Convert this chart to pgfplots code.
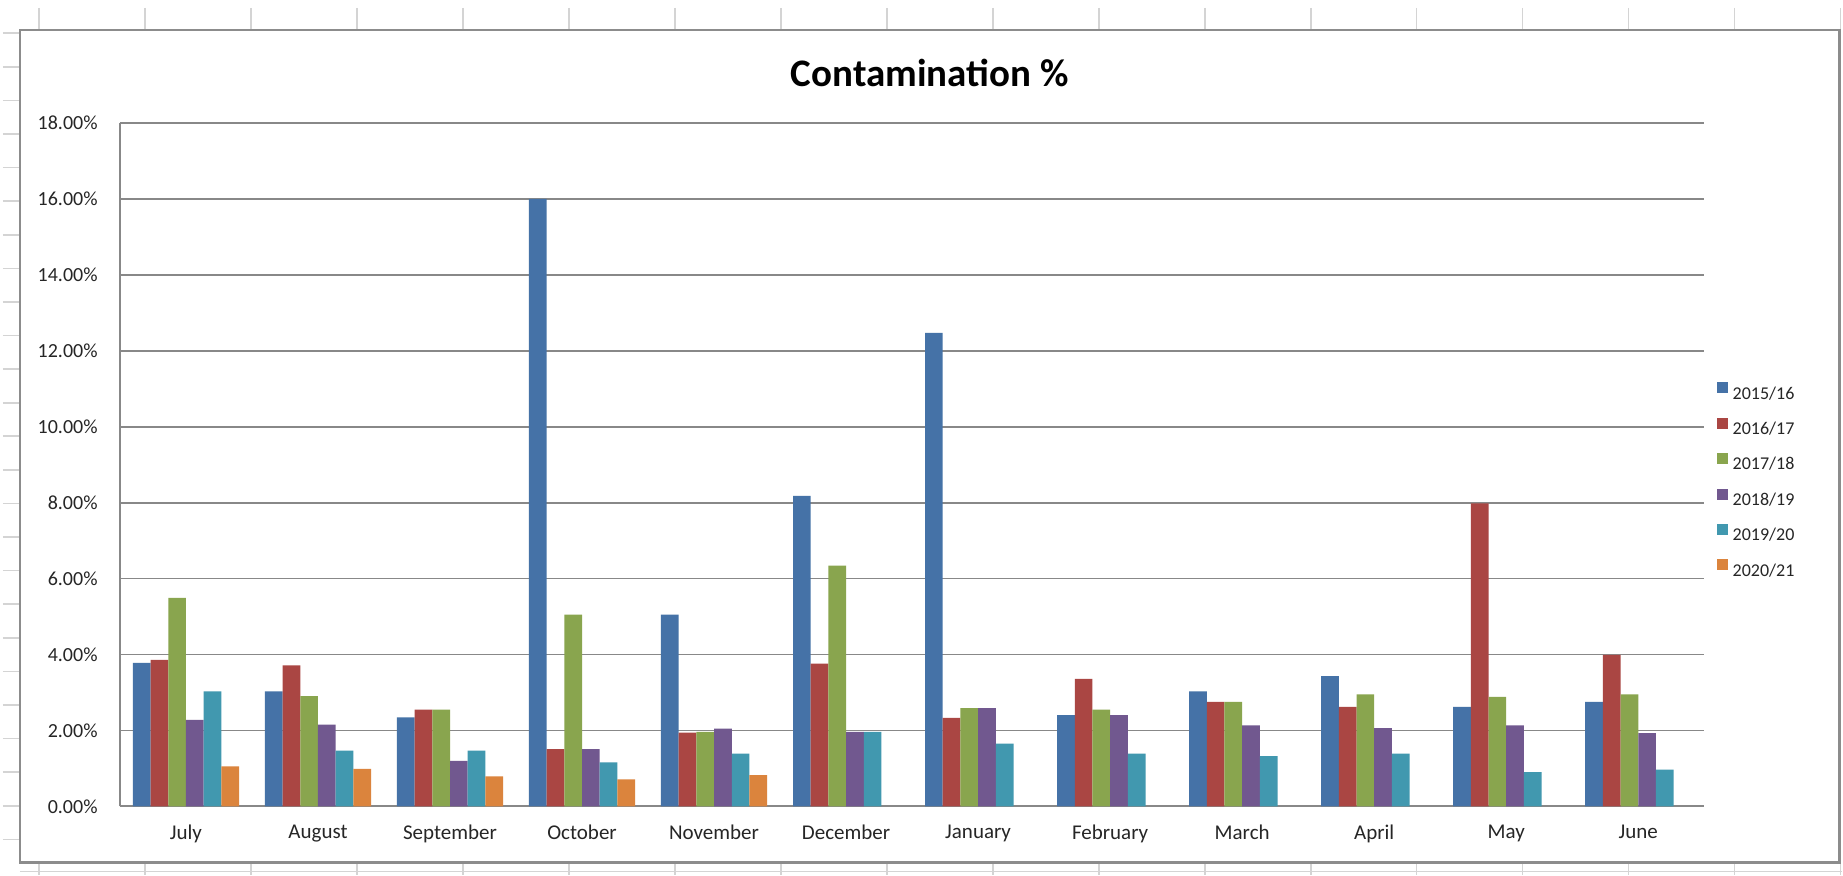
\documentclass[border=0pt]{standalone}
\usepackage{pgfplots}
\usepackage{pgfplotstable}
\pgfplotsset{compat=1.18}
\usepackage{fontspec}
\setmainfont{Carlito}
\definecolor{s1}{HTML}{4572A7}
\definecolor{s2}{HTML}{AA4643}
\definecolor{s3}{HTML}{89A54E}
\definecolor{s4}{HTML}{71588F}
\definecolor{s5}{HTML}{4198AF}
\definecolor{s6}{HTML}{DB843D}
\definecolor{gridc}{RGB}{136,136,136}
\definecolor{cellc}{RGB}{212,212,212}
\definecolor{framec}{RGB}{140,140,140}
\pgfplotstableread{
x a b c d e f
0 3.78 3.86 5.49 2.28 3.03 1.05
1 3.03 3.71 2.90 2.15 1.47 0.99
2 2.34 2.55 2.55 1.20 1.47 0.79
3 16.00 1.51 5.05 1.51 1.16 0.71
4 5.05 1.94 1.96 2.05 1.39 0.82
5 8.18 3.76 6.34 1.96 1.96 nan
6 12.47 2.33 2.59 2.59 1.65 nan
7 2.40 3.36 2.55 2.40 1.39 nan
8 3.03 2.75 2.75 2.13 1.32 nan
9 3.43 2.62 2.95 2.06 1.39 nan
10 2.62 7.98 2.88 2.13 0.90 nan
11 2.75 3.99 2.95 1.93 0.97 nan
}\datatable
\begin{document}
\begin{tikzpicture}
% page / spreadsheet background
\fill[white] (0pt,0pt) rectangle (921.5pt,437.5pt);
\foreach \k in {0,...,17}{
  \draw[cellc,line width=0.8pt] ({(39.3+106*\k)/2*1pt},{(875-8)/2*1pt}) -- ({(39.3+106*\k)/2*1pt},{(875-30)/2*1pt});
  \draw[cellc,line width=0.8pt] ({(39.3+106*\k)/2*1pt},{(875-863)/2*1pt}) -- ({(39.3+106*\k)/2*1pt},0pt);
}
\foreach \k in {0,...,24}{
  \draw[cellc,line width=0.8pt] (1.5pt,{(875-33.3-33.6*\k)/2*1pt}) -- (10pt,{(875-33.3-33.6*\k)/2*1pt});
}
\draw[cellc,line width=0.8pt] (10pt,1.5pt) -- (921.5pt,1.5pt);
% chart frame
\draw[framec,line width=1.3pt,fill=white] (10pt,6pt) rectangle (920pt,422.5pt);
% title
\node[anchor=base,font=\fontsize{19.5}{22}\selectfont\bfseries] at (465pt,394pt) {Contamination \%};
\begin{axis}[
  at={(60pt,34.15pt)}, anchor=south west,
  scale only axis, width=792.5pt, height=341.85pt,
  ybar=0pt, bar width=8.85pt,
  xmin=-0.5, xmax=11.5, ymin=0, ymax=18,
  xtick={0,...,11},
  xticklabels={July,August,September,October,November,December,January,February,March,April,May,June},
  ytick={0,2,...,18},
  yticklabel={\pgfmathprintnumber[fixed,fixed zerofill,precision=2,assume math mode=true]{\tick}\%},
  major tick length=0pt,
  axis x line*=bottom, axis y line*=left,
  axis line style={gridc,line width=1pt},
  ymajorgrids, grid style={gridc,line width=0.9pt},
  tick label style={font=\fontsize{10.5}{12}\selectfont, text=black!85},
  yticklabel style={inner sep=0pt, xshift=-11pt, anchor=east, font=\fontsize{10}{12}\selectfont},
  xticklabel style={inner sep=0pt, yshift=-9pt, anchor=north},
  legend style={at={(1.0076,0.4786)}, anchor=west, draw=none, fill=none,
    inner sep=0pt, row sep=9.3pt, column sep=2.5pt,
    font=\fontsize{9}{10}\selectfont,
    nodes={inner sep=0pt, text height=6.3pt, text depth=0pt, anchor=west, text=black!85}},
  legend cell align=left,
  legend image code/.code={\fill[#1] (0pt,-0.25pt) rectangle (5.5pt,5.25pt);},
]
\addplot[fill=s1,draw=none] table[x=x,y=a]{\datatable};
\addplot[fill=s2,draw=none] table[x=x,y=b]{\datatable};
\addplot[fill=s3,draw=none] table[x=x,y=c]{\datatable};
\addplot[fill=s4,draw=none] table[x=x,y=d]{\datatable};
\addplot[fill=s5,draw=none] table[x=x,y=e]{\datatable};
\addplot[fill=s6,draw=none] table[x=x,y=f]{\datatable};
\legend{2015/16,2016/17,2017/18,2018/19,2019/20,2020/21}
\end{axis}
\end{tikzpicture}
\end{document}
